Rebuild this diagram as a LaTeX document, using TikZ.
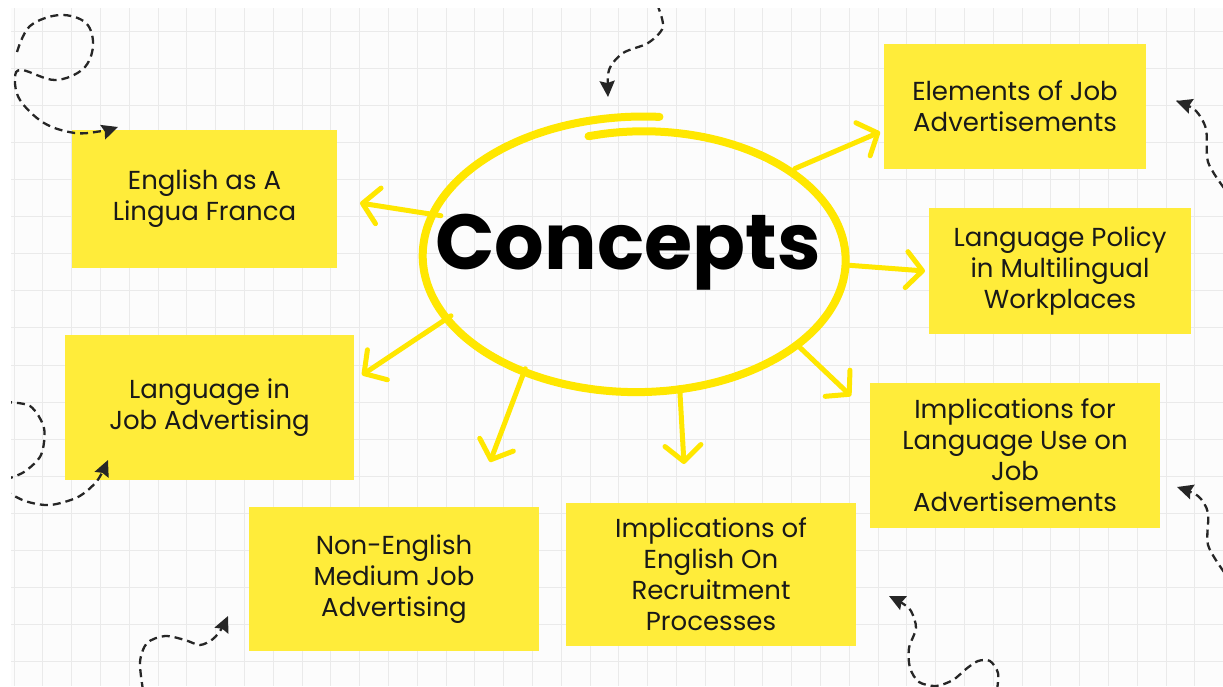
\documentclass[tikz,border=0pt]{standalone}
\usepackage{fontspec}
\newfontfamily\hand{Poppins}
\usetikzlibrary{arrows.meta,shapes.geometric,positioning}
\definecolor{boxyellow}{RGB}{255,236,58}
\definecolor{penyellow}{RGB}{255,231,0}
\definecolor{gridgray}{RGB}{234,234,234}

\begin{document}
\begin{tikzpicture}[x=1pt,y=-1pt,
  note/.style={fill=boxyellow, align=center, inner sep=0pt, text=black!90,
    font=\hand\fontsize{26}{31}\selectfont},
  ray/.style={draw=penyellow, line width=5pt, line cap=round,
    -{Straight Barb[length=16pt,width=36pt,round]}},
  doodle/.style={draw=black!85, line width=2.3pt, dash pattern=on 8pt off 5pt},
  pointed/.style={-{Stealth[length=16pt,width=15pt,inset=2pt]}},
  gridline/.style={draw=gridgray, line width=0.8pt}]
  \useasboundingbox (0,0) rectangle (1223,686);
  \fill[white] (0,0) rectangle (1223,686);
  \fill[black!1] (11,8) rectangle (1223,686);
  \begin{scope}
    \clip (11,8) rectangle (1223,686);
    \foreach \gx in {0,...,42} \draw[gridline] ({14+28.8*\gx},8) -- ++(0,678);
    \foreach \gy in {0,...,18} \draw[gridline] (11,{31+37.1*\gy}) -- ++(1212,0);
  \end{scope}

  \node[note, minimum width=265pt, minimum height=138pt] (lingua) at (204.5,199) {English as A\\Lingua Franca};
  \node[note, minimum width=289pt, minimum height=145pt] (jobads) at (209.5,407.5) {Language in\\Job Advertising};
  \node[note, minimum width=290pt, minimum height=144pt] (nonenglish) at (394,579) {Non-English\\Medium Job\\Advertising};
  \node[note, minimum width=290pt, minimum height=143pt] (recruit) at (711,574.5) {Implications of\\English On\\Recruitment\\Processes};
  \node[note, minimum width=290pt, minimum height=145pt] (languse) at (1015,455.5) {Implications for\\Language Use on\\Job\\Advertisements};
  \node[note, minimum width=262pt, minimum height=126pt] (policy) at (1060,271) {Language Policy\\in Multilingual\\Workplaces};
  \node[note, minimum width=262pt, minimum height=125pt] (elements) at (1015,106.5) {Elements of Job\\Advertisements};

  \begin{scope}
    \clip (11,8) rectangle (1223,686);
    \draw[doodle,pointed] plot[smooth,tension=0.6] coordinates {(17,52) (30,26) (60,15) (86,23) (93,46) (83,69) (55,80) (22,70) (15,78) (20,100) (44,123) (75,133) (102,131) (118,127)};
    \draw[doodle,pointed] plot[smooth] coordinates {(657,4) (663,27) (648,43) (623,53) (609,70) (608,97)};
    \draw[doodle,pointed] plot[smooth] coordinates {(1224,188) (1208,162) (1206,129) (1195,110) (1176,101)};
    \draw[doodle,pointed] plot[smooth] coordinates {(1224,572) (1208,545) (1208,513) (1198,496) (1177,487)};
    \draw[doodle,pointed] plot[smooth] coordinates {(997,690) (998,673) (990,661) (978,661) (966,669) (953,680) (936,686) (919,682) (910,668) (909,648) (916,628) (911,611) (902,603) (889,596)};
    \draw[doodle,pointed] plot[smooth] coordinates {(143,690) (140,662) (147,643) (165,636) (185,640) (200,645) (213,639) (222,628) (228,616)};
    \draw[doodle] plot[smooth] coordinates {(4,402) (30,406) (44,428) (41,455) (24,472) (4,480)};
    \draw[doodle,pointed] plot[smooth] coordinates {(4,490) (25,501) (50,505) (78,497) (97,481) (108,460)};
  \end{scope}

  \node[ellipse, minimum width=420pt, minimum height=264pt, inner sep=0pt] (core) at (640,258) {};
  \draw[penyellow, line width=8pt, line cap=round] plot[smooth, domain=-105:275, samples=80, variable=\t]
    ({640+205*(0.97+0.12*(\t+105)/380)*cos(\t)}, {258+130*(0.97+0.12*(\t+105)/380)*sin(\t)});
  \node[font=\hand\bfseries\fontsize{78}{84}\selectfont, text=black] (title) at (628,252) {Concepts};

  \coordinate (toLingua) at (360,203);
  \coordinate (toJobads) at (362,375);
  \coordinate (toNonenglish) at (490,462);
  \coordinate (toRecruit) at (684,464);
  \coordinate (toLanguse) at (851,396);
  \coordinate (toPolicy) at (925,271);
  \coordinate (toElements) at (880,132);
  \draw[ray] (core.168) -- (toLingua);
  \draw[ray] (core.197) -- (toJobads);
  \draw[ray] (core.224) -- (toNonenglish);
  \draw[ray] (core.287) -- (toRecruit);
  \draw[ray] (core.331) -- (toLanguse);
  \draw[ray] (core.358) -- (toPolicy);
  \draw[ray] (core.30) -- (toElements);
\end{tikzpicture}
\end{document}
